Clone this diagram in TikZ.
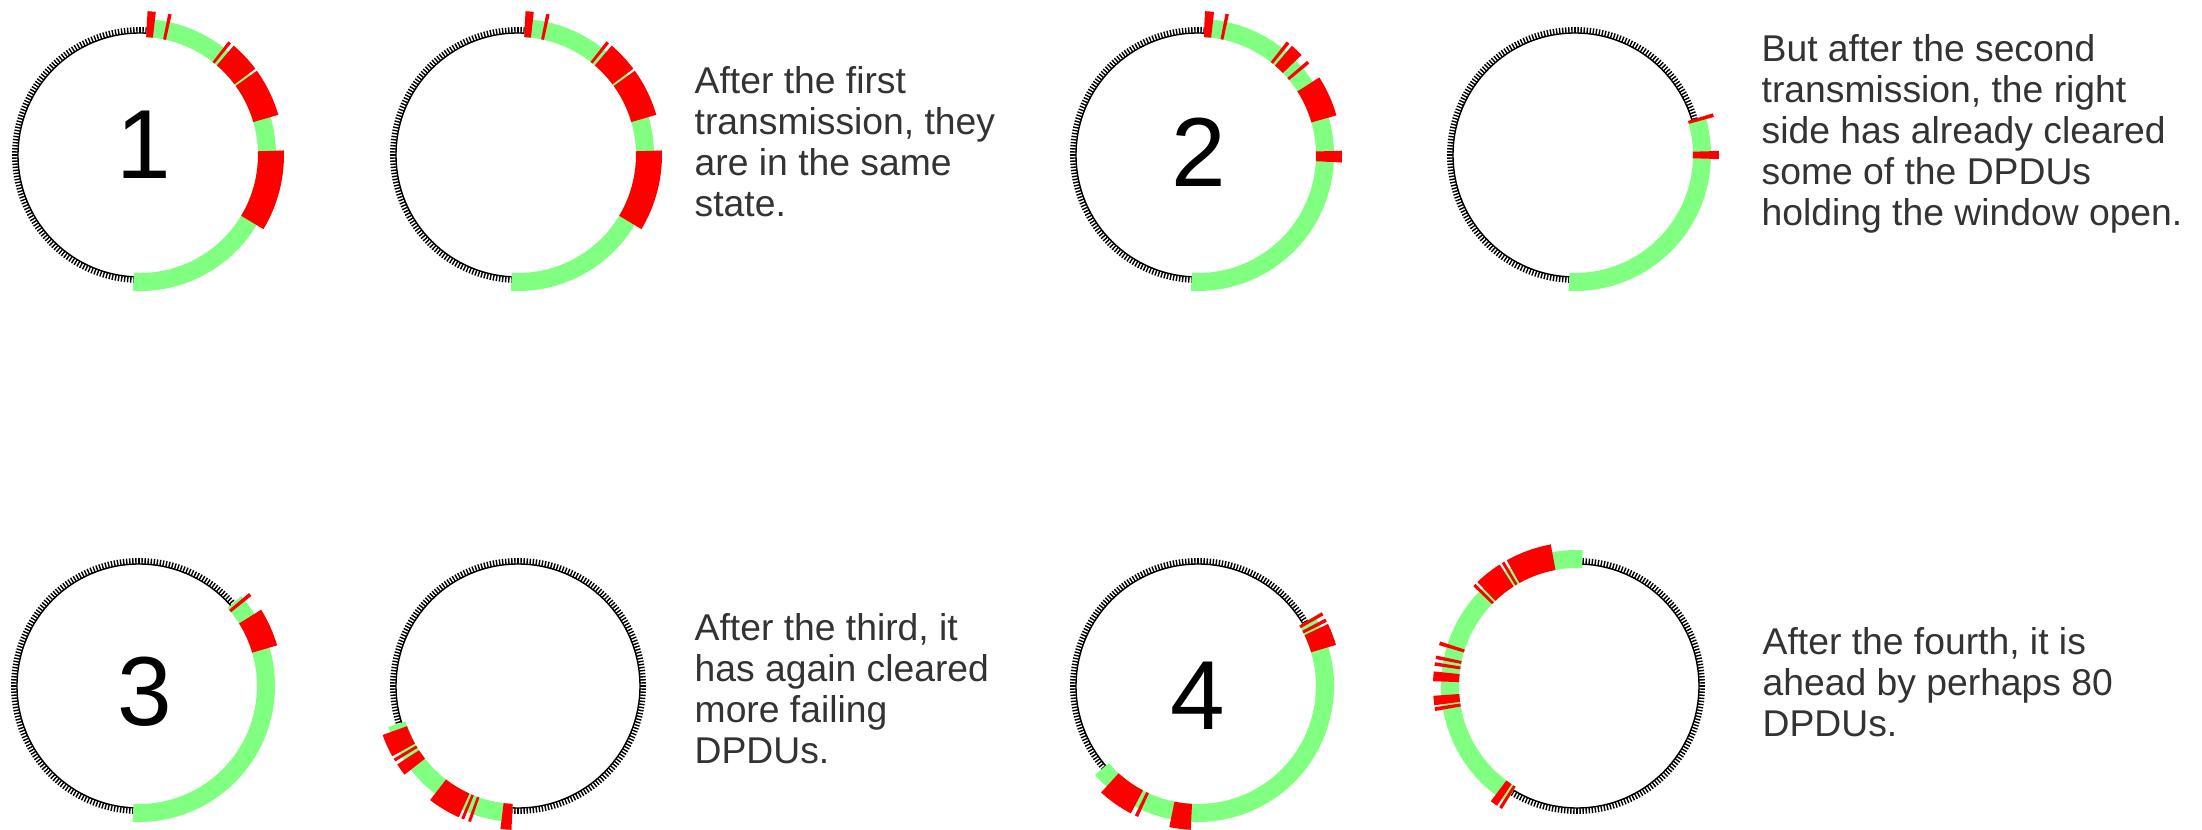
\documentclass[tikz,border=0pt]{standalone}
\usepackage{fontspec}
\setmainfont{Liberation Sans}
\usepackage{xcolor}

\definecolor{okgreen}{RGB}{128,255,128}
\definecolor{failred}{RGB}{255,0,0}
\definecolor{notegray}{RGB}{51,51,51}

% acknowledged part of the window, angle #1 to #2
\newcommand{\okspan}[2]{%
  \fill[okgreen] (#1:118) arc[start angle=#1, end angle=#2, radius=118]
    -- (#2:136) arc[start angle=#2, end angle=#1, radius=136] -- cycle;}
% failed DPDUs, angle #1 to #2
\newcommand{\failspan}[2]{%
  \fill[failred] (#1:118) arc[start angle=#1, end angle=#2, radius=118]
    -- (#2:144) arc[start angle=#2, end angle=#1, radius=144] -- cycle;}
% sequence number dial, 256 slots
\newcommand{\seqdial}{%
  \draw[rim] (0,0) circle[radius=122];
  \foreach \k in {0,...,255}
    \draw[tick] ({\k*1.40625}:122) -- ({\k*1.40625}:128);}

\begin{document}
\begin{tikzpicture}[
    x=0.01cm, y=0.01cm,
    rim/.style={line width=0.4pt},
    tick/.style={line width=0.4pt},
    digit/.style={inner sep=0pt, font=\fontsize{27.9}{30}\selectfont},
    note/.style={anchor=base west, align=left, inner sep=0pt, text=notegray,
                 font=\fontsize{10.6}{11.67}\selectfont}
]
\useasboundingbox (0,0) rectangle (2202,830);

% First transmission, left side
\begin{scope}[shift={(140,675)}]
  \seqdial
  \okspan{-93}{87}
  \foreach \a/\b in {83.7/87, 77.3/78.7, 50.8/52.1, 36.8/49.4, 16.2/35.8, -31/1.8}
    {\failspan{\a}{\b}}
\end{scope}
\node[digit] (n1) at (144,685) {1};

% First transmission, right side
\begin{scope}[shift={(518,675)}]
  \seqdial
  \okspan{-93}{87}
  \foreach \a/\b in {83.7/87, 77.3/78.7, 50.8/52.1, 36.8/49.4, 16.2/35.8, -31/1.8}
    {\failspan{\a}{\b}}
\end{scope}
% (base anchor sits on the last line)
\node[note] (note1) at (694,613) {After the first\\transmission, they\\are in the same\\state.};

% Second transmission, left side
\begin{scope}[shift={(1198,675)}]
  \seqdial
  \okspan{-93}{87.2}
  \foreach \a/\b in {83.6/87.2, 77.6/79, 50.6/52, 44/49.3, 39.4/40.8, 16/32.6, -3/1.7}
    {\failspan{\a}{\b}}
\end{scope}
\node[digit] (n2) at (1199,678) {2};

% Second transmission, right side
\begin{scope}[shift={(1575,675)}]
  \seqdial
  \okspan{-92.7}{15.8}
  \foreach \a/\b in {15.3/16.8, -1.6/1.6}
    {\failspan{\a}{\b}}
\end{scope}
\node[note] (note2) at (1761,604) {But after the second\\transmission, the right\\side has already cleared\\some of the DPDUs\\holding the window open.};

% Third transmission, left side
\begin{scope}[shift={(139,144)}]
  \seqdial
  \okspan{-92.7}{41.3}
  \foreach \a/\b in {38.7/40.2, 16.4/32}
    {\failspan{\a}{\b}}
\end{scope}
\node[digit] (n3) at (145,138) {3};

% Third transmission, right side
\begin{scope}[shift={(518,144)}]
  \seqdial
  \okspan{197.5}{267.4}
  \foreach \a/\b in {199.9/209.2, 210.3/211.6, 213/218, 232.4/245.7, 246.8/248, 249.7/250.9, 263/267.4}
    {\failspan{\a}{\b}}
\end{scope}
\node[note] (note3) at (694,66) {After the third, it\\has again cleared\\more failing\\DPDUs.};

% Fourth transmission, left side
\begin{scope}[shift={(1198,144)}]
  \seqdial
  \okspan{-139.2}{30.8}
  \foreach \a/\b in {16.6/25.5, 26.5/27.9, 29.4/30.8, -132.3/-117.8, -116/-114.6, -101.5/-92.9}
    {\failspan{\a}{\b}}
\end{scope}
\node[digit] (n4) at (1198,134) {4};

% Fourth transmission, right side
\begin{scope}[shift={(1577,144)}]
  \seqdial
  \okspan{87.6}{238.7}
  \foreach \a/\b in {100.5/119.2, 120.3/121.5, 122.5/133.8, 134.8/136.1, 162/163.5,
                     167.8/169.2, 170.5/171.9, 174.2/178.1, 183.9/187.7, 188.5/190,
                     233.2/236.3, 237.3/238.6}
    {\failspan{\a}{\b}}
\end{scope}
\node[note] (note4) at (1762,93) {After the fourth, it is\\ahead by perhaps 80\\DPDUs.};

\end{tikzpicture}
\end{document}
